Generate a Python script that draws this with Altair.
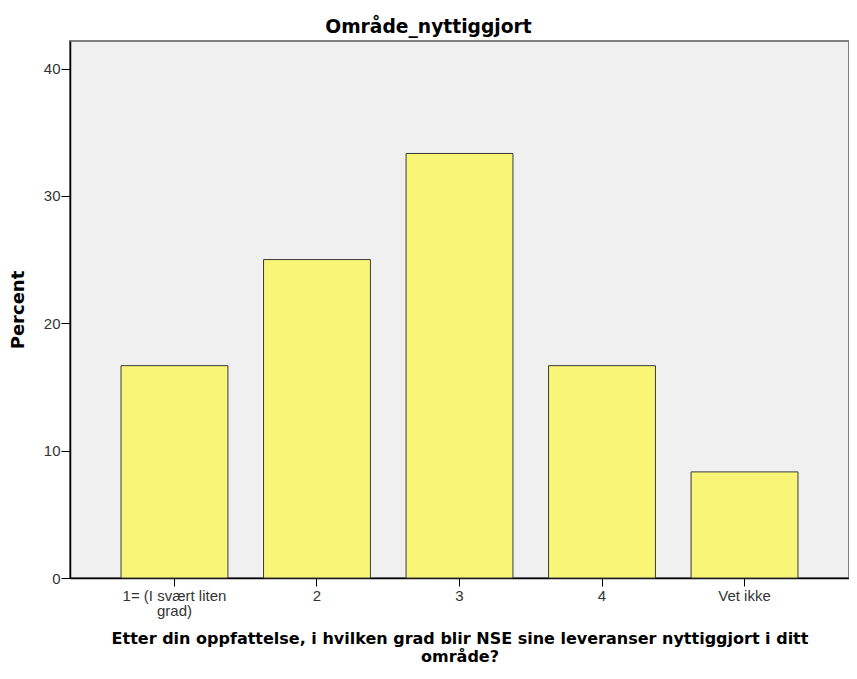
import altair as alt
import pandas as pd

categories = ["1= (I svært liten|grad)", "2", "3", "4", "Vet ikke"]
percent = [16.67, 25.0, 33.33, 16.67, 8.33]
y_ticks = [0, 10, 20, 30, 40]

df = pd.DataFrame({"cat": categories, "pct": percent})

chart = alt.Chart(df).mark_bar(
    color="#F9F577", stroke="#3a3a3a", strokeWidth=1
).encode(
    x=alt.X("cat:N", sort=categories,
            scale=alt.Scale(paddingInner=0.25, paddingOuter=0.358),
            axis=alt.Axis(
                title=["Etter din oppfattelse, i hvilken grad blir NSE sine leveranser nyttiggjort i ditt", "område?"],
                labelAngle=0,
                labelExpr="split(datum.value, '|')",
                labelFont="Liberation Sans", labelFontSize=15, labelColor="#333333",
                labelLineHeight=15.5, labelPadding=2,
                tickSize=8, tickColor="#000000", domainColor="#000000", domainWidth=1.5,
                titleFont="DejaVu Sans", titleFontSize=16, titleFontWeight="bold",
                titleColor="#000000", titlePadding=12, titleLineHeight=17.5,
            )),
    y=alt.Y("pct:Q",
            scale=alt.Scale(domain=[0, 42.16], nice=False, zero=True),
            axis=alt.Axis(
                title="Percent", values=y_ticks, grid=False,
                labelFont="Liberation Sans", labelFontSize=15, labelColor="#333333",
                labelPadding=1,
                tickSize=9, tickColor="#000000", domainColor="#000000", domainWidth=1.5,
                titleFont="DejaVu Sans", titleFontSize=18, titleFontWeight="bold",
                titleColor="#000000", titlePadding=16,
            )),
).properties(
    width=779,
    height=537,
    title=alt.TitleParams("Område_nyttiggjort", font="DejaVu Sans", fontSize=18.7,
                          fontWeight="bold", color="#000000", dx=-31, offset=4),
    autosize=alt.AutoSizeParams(type="none"),
    padding={"left": 62, "top": 33, "right": 0, "bottom": 93},
).configure_view(
    fill="#F0F0F0", stroke="#808080", strokeWidth=2
)

chart.save("out.html", embed_options={"renderer": "svg", "actions": False})
